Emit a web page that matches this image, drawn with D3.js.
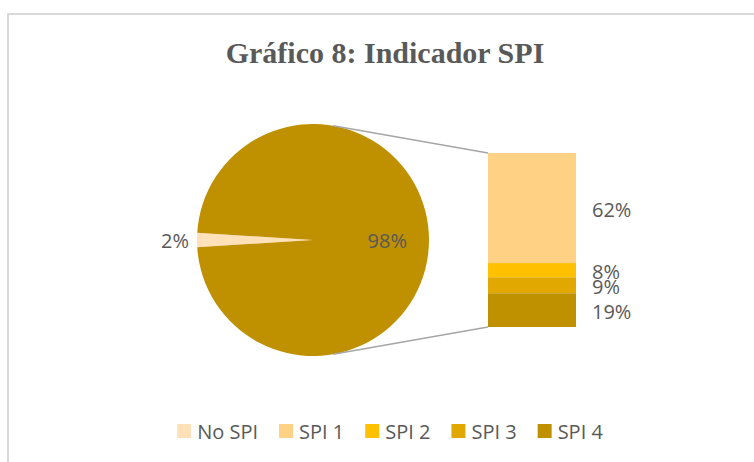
<!DOCTYPE html>
<html lang="es">
  <head>
    <meta charset="utf-8">
    <title>Gráfico 8: Indicador SPI</title>
    <script src="https://d3js.org/d3.v7.min.js"></script>
    <style>
      body { margin: 0; background: #fff; }
    </style>
  </head>
  <body>
    <div id="container"></div>
    <script>
      // pie: "No SPI" against the rest, which is split out in the bar
      const pieNames = ['No SPI', 'SPI']
      const pieValues = [2, 98]
      const barNames = ['SPI 1', 'SPI 2', 'SPI 3', 'SPI 4']
      const barValues = [62, 8, 9, 19]
      const legendNames = ['No SPI', 'SPI 1', 'SPI 2', 'SPI 3', 'SPI 4']
      const colors = {
        'No SPI': '#FFE1B9',
        'SPI 1': '#FED185',
        'SPI 2': '#FFC000',
        'SPI 3': '#E0A800',
        'SPI 4': '#BF9000',
        'SPI': '#BF9000'
      }
      const textColor = '#595959'
      const labelFont = '"Open Sans", sans-serif'
      const labelSize = 20

      const W = 754, H = 462
      const svg = d3.select('#container').append('svg')
        .attr('width', W)
        .attr('height', H)

      // chart frame
      svg.append('rect')
        .attr('x', 8).attr('y', 14)
        .attr('width', W + 10).attr('height', H + 10)
        .attr('fill', '#fff')
        .attr('stroke', '#d9d9d9')
        .attr('stroke-width', 2)

      // title
      svg.append('text')
        .attr('x', 385)
        .attr('y', 63)
        .attr('text-anchor', 'middle')
        .attr('font-family', '"Liberation Serif", serif')
        .attr('font-weight', 'bold')
        .attr('font-size', 30)
        .attr('fill', textColor)
        .text('Gráfico 8: Indicador SPI')

      // pie
      const cx = 313, cy = 240, r = 116
      const half = Math.PI * pieValues[0] / d3.sum(pieValues)
      const pie = d3.pie().sort(null)
        .startAngle(1.5 * Math.PI - half)
        .endAngle(3.5 * Math.PI - half)
      const arcs = pie(pieValues)
      const arc = d3.arc().innerRadius(0).outerRadius(r)
      const gPie = svg.append('g').attr('transform', `translate(${cx},${cy})`)
      gPie.selectAll('path')
        .data(arcs).enter()
        .append('path')
        .attr('d', arc)
        .attr('fill', (d, i) => colors[pieNames[i]])

      const total = d3.sum(pieValues)
      const inArc = d3.arc().innerRadius(r * 0.64).outerRadius(r * 0.64)
      const outArc = d3.arc().innerRadius(r + 8).outerRadius(r + 8)
      gPie.selectAll('text')
        .data(arcs).enter()
        .append('text')
        .attr('transform', (d, i) => `translate(${(i === 0 ? outArc : inArc).centroid(d)})`)
        .attr('text-anchor', (d, i) => i === 0 ? 'end' : 'middle')
        .attr('dominant-baseline', 'central')
        .attr('font-family', labelFont)
        .attr('font-size', labelSize)
        .attr('fill', textColor)
        .text(d => Math.round(d.value / total * 100) + '%')

      // stacked bar for the split-out part
      const barX = 488, barW = 88
      const y = d3.scaleLinear()
        .domain([0, d3.sum(barValues)])
        .range([327, 153])
      const stackData = barNames.map((n, i) => ({
        name: n,
        value: barValues[i],
        y0: d3.sum(barValues.slice(i + 1)),
        y1: d3.sum(barValues.slice(i))
      }))
      svg.selectAll('rect.seg')
        .data(stackData).enter()
        .append('rect')
        .attr('class', 'seg')
        .attr('x', barX)
        .attr('y', d => y(d.y1))
        .attr('width', barW)
        .attr('height', d => y(d.y0) - y(d.y1))
        .attr('fill', d => colors[d.name])
      svg.selectAll('text.seg')
        .data(stackData).enter()
        .append('text')
        .attr('class', 'seg')
        .attr('x', barX + barW + 16)
        .attr('y', d => (y(d.y0) + y(d.y1)) / 2 + 1)
        .attr('dominant-baseline', 'central')
        .attr('font-family', labelFont)
        .attr('font-size', labelSize)
        .attr('fill', textColor)
        .text(d => d.value + '%')

      // connector lines from pie to bar
      const a = 10 * Math.PI / 180
      const ends = [
        [cx + r * Math.sin(a), cy - r * Math.cos(a), barX, y.range()[1]],
        [cx + r * Math.sin(a), cy + r * Math.cos(a), barX, y.range()[0]]
      ]
      svg.selectAll('line.conn')
        .data(ends).enter()
        .append('line')
        .attr('class', 'conn')
        .attr('x1', d => d[0]).attr('y1', d => d[1])
        .attr('x2', d => d[2]).attr('y2', d => d[3])
        .attr('stroke', '#a6a6a6')
        .attr('stroke-width', 1.5)

      // legend, laid out from measured text widths and centred
      const gLeg = svg.append('g')
      const items = gLeg.selectAll('g')
        .data(legendNames).enter()
        .append('g')
      items.append('rect')
        .attr('y', 424)
        .attr('width', 14).attr('height', 14)
        .attr('fill', d => colors[d])
      items.append('text')
        .attr('x', 20)
        .attr('y', 431)
        .attr('dominant-baseline', 'central')
        .attr('font-family', labelFont)
        .attr('font-size', labelSize)
        .attr('fill', textColor)
        .text(d => d)
      let xPos = 0
      items.each(function () {
        const w = d3.select(this).select('text').node().getComputedTextLength()
        d3.select(this).attr('transform', `translate(${xPos},0)`)
        xPos += 20 + w + 21
      })
      const legW = xPos - 21
      gLeg.attr('transform', `translate(${390 - legW / 2},0)`)
    </script>
  </body>
</html>
